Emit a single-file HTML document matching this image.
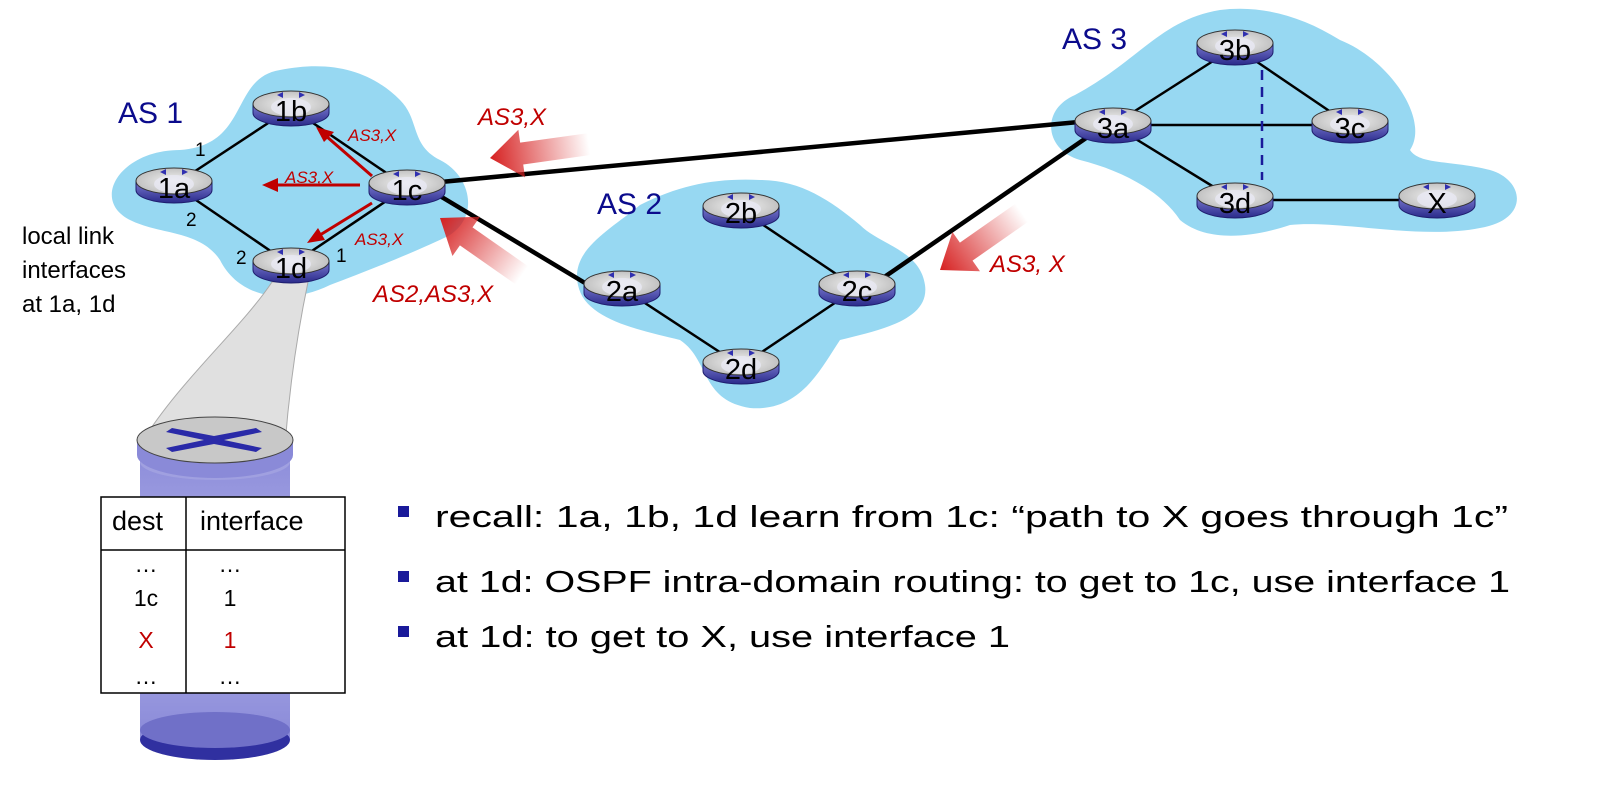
<!DOCTYPE html>
<html><head><meta charset="utf-8"><style>
html,body{margin:0;padding:0;background:#fff;}
svg{display:block;}
text{font-family:"Liberation Sans",sans-serif;}
</style></head><body>
<svg width="1608" height="789" viewBox="0 0 1608 789" xmlns="http://www.w3.org/2000/svg">
<defs>
<linearGradient id="band" x1="0" y1="0" x2="0" y2="1"><stop offset="0" stop-color="#7a7ad0"/><stop offset="1" stop-color="#2a2a8a"/></linearGradient>
<radialGradient id="top" cx="0.5" cy="0.5" r="0.6"><stop offset="0" stop-color="#f2f2f2"/><stop offset="1" stop-color="#b8b8b8"/></radialGradient>
<linearGradient id="fa1" x1="0" y1="0" x2="1" y2="0"><stop offset="0" stop-color="#d62020"/><stop offset="1" stop-color="#d62020" stop-opacity="0"/></linearGradient>
<g id="router">
<path d="M-38 0 L-38 9 A38 13 0 0 0 38 9 L38 0 Z" fill="url(#band)" stroke="#1e1e6e" stroke-width="1"/>
<ellipse cx="0" cy="0" rx="38" ry="13" fill="url(#top)" stroke="#333" stroke-width="1"/>
<ellipse cx="0" cy="3" rx="20" ry="9" fill="#e8e8f4" opacity="0.8"/>
<path d="M-14 -9 l6 -3 v6 z M14 -9 l-6 -3 v6 z" fill="#3030b0"/>
</g>
<linearGradient id="cyl" x1="0" y1="0" x2="0" y2="1"><stop offset="0" stop-color="#8a8ad8"/><stop offset="0.5" stop-color="#b0b0ea"/><stop offset="1" stop-color="#8a8ad8"/></linearGradient>
</defs>

<!-- title descenders -->
<text x="545" y="-22" font-size="72" fill="#0b0b8c">Applying hot potato routing</text>

<!-- clouds -->
<path d="M180 150 C120 150 90 200 130 220 C160 235 200 230 220 260 C240 300 290 305 330 285 C370 270 420 250 450 235 C480 215 470 175 440 160 C410 145 420 120 400 100 C370 70 330 60 280 70 C230 78 250 145 180 150 Z" fill="#97d8f2"/>
<path d="M640 205 C610 230 570 250 578 285 C585 320 640 330 680 340 C710 360 700 400 750 408 C800 412 820 370 840 340 C880 330 930 320 925 285 C920 250 880 245 860 225 C830 200 800 180 760 180 C715 178 680 185 640 205 Z" fill="#97d8f2"/>
<path d="M1075 95 C1040 110 1045 150 1080 160 C1120 170 1160 190 1180 220 C1210 245 1260 235 1290 225 C1340 220 1420 240 1480 228 C1530 220 1525 180 1490 170 C1450 160 1420 165 1410 150 C1430 120 1390 60 1340 40 C1300 15 1260 5 1220 10 C1160 20 1140 60 1075 95 Z" fill="#97d8f2"/>

<!-- beam -->
<path d="M272 282 L308 282 C298 330 290 380 285 445 L140 445 C180 380 240 330 272 282 Z" fill="#e0e0e0" stroke="#aaa" stroke-width="1"/>

<!-- links -->
<g stroke="#000" stroke-width="2.5">
<line x1="174" y1="185" x2="291" y2="108"/>
<line x1="174" y1="185" x2="291" y2="265"/>
<line x1="407" y1="187" x2="291" y2="108"/>
<line x1="407" y1="187" x2="291" y2="265"/>
<line x1="741" y1="210" x2="857" y2="288"/>
<line x1="622" y1="288" x2="741" y2="366"/>
<line x1="857" y1="288" x2="741" y2="366"/>
<line x1="1113" y1="125" x2="1235" y2="47"/>
<line x1="1113" y1="125" x2="1350" y2="125"/>
<line x1="1235" y1="47" x2="1350" y2="125"/>
<line x1="1113" y1="125" x2="1235" y2="200"/>
<line x1="1235" y1="200" x2="1437" y2="200"/>
</g>
<line x1="1262" y1="70" x2="1262" y2="180" stroke="#1a1a9a" stroke-width="2.5" stroke-dasharray="10,7"/>
<g stroke="#000" stroke-width="4.5">
<line x1="430" y1="183" x2="1100" y2="120"/>
<line x1="430" y1="190" x2="600" y2="292"/>
<line x1="880" y1="280" x2="1105" y2="125"/>
</g>

<!-- fat arrows -->
<g transform="translate(490,158) rotate(-8)"><path d="M0 0 L32 -24 L32 -11 L100 -11 L100 11 L32 11 L32 24 Z" fill="url(#fa1)"/></g>
<g transform="translate(440,218) rotate(35)"><path d="M0 0 L32 -24 L32 -11 L100 -11 L100 11 L32 11 L32 24 Z" fill="url(#fa1)"/></g>
<g transform="translate(940,270) rotate(-35)"><path d="M0 0 L32 -24 L32 -11 L100 -11 L100 11 L32 11 L32 24 Z" fill="url(#fa1)"/></g>

<!-- thin red arrows -->
<g stroke="#c00000" stroke-width="3" fill="#c00000">
<line x1="372" y1="176" x2="326" y2="136"/><path d="M316 127 L334 132 L324 142 Z" stroke="none"/>
<line x1="360" y1="185" x2="276" y2="185"/><path d="M262 185 L278 178 L278 192 Z" stroke="none"/>
<line x1="372" y1="203" x2="320" y2="235"/><path d="M307 243 L318 228 L325 240 Z" stroke="none"/>
</g>

<!-- routers -->
<g font-size="29" text-anchor="middle" fill="#000">
<use href="#router" x="291" y="104"/><text x="291" y="121">1b</text>
<use href="#router" x="174" y="181"/><text x="174" y="198">1a</text>
<use href="#router" x="407" y="183"/><text x="407" y="200">1c</text>
<use href="#router" x="291" y="261"/><text x="291" y="278">1d</text>
<use href="#router" x="741" y="206"/><text x="741" y="223">2b</text>
<use href="#router" x="622" y="284"/><text x="622" y="301">2a</text>
<use href="#router" x="857" y="284"/><text x="857" y="301">2c</text>
<use href="#router" x="741" y="362"/><text x="741" y="379">2d</text>
<use href="#router" x="1113" y="121"/><text x="1113" y="138">3a</text>
<use href="#router" x="1235" y="43"/><text x="1235" y="60">3b</text>
<use href="#router" x="1350" y="121"/><text x="1350" y="138">3c</text>
<use href="#router" x="1235" y="196"/><text x="1235" y="213">3d</text>
<use href="#router" x="1437" y="196"/><text x="1437" y="213">X</text>
</g>

<!-- AS labels -->
<g font-size="30" fill="#0b0b8c">
<text x="118" y="123">AS 1</text>
<text x="597" y="214">AS 2</text>
<text x="1062" y="49">AS 3</text>
</g>
<g font-size="19" fill="#000">
<text x="195" y="156">1</text><text x="186" y="226">2</text>
<text x="236" y="264">2</text><text x="336" y="262">1</text>
</g>
<g font-style="italic" fill="#c00000">
<text x="348" y="141" font-size="17">AS3,X</text>
<text x="285" y="183" font-size="17">AS3,X</text>
<text x="355" y="245" font-size="17">AS3,X</text>
<text x="478" y="125" font-size="24">AS3,X</text>
<text x="373" y="302" font-size="24">AS2,AS3,X</text>
<text x="990" y="272" font-size="24">AS3, X</text>
</g>
<g font-size="24" fill="#000">
<text x="22" y="244">local link</text>
<text x="22" y="278">interfaces</text>
<text x="22" y="312">at 1a, 1d</text>
</g>

<!-- cylinder -->
<rect x="140" y="442" width="150" height="298" fill="url(#cyl)"/>
<ellipse cx="215" cy="740" rx="75" ry="20" fill="#3030a0"/>
<ellipse cx="215" cy="730" rx="75" ry="18" fill="#7070c8"/>
<ellipse cx="215" cy="462" rx="75" ry="18" fill="#a0a0e0"/>
<path d="M137 440 L137 455 A78 23 0 0 0 293 455 L293 440 Z" fill="#8a8ad8"/>
<ellipse cx="215" cy="440" rx="78" ry="23" fill="#c8c8c8" stroke="#444" stroke-width="1"/>
<path d="M172 428 L214 436 L256 428 L262 432 L224 440 L262 448 L256 452 L214 444 L172 452 L166 448 L204 440 L166 432 Z" fill="#2a2aa8"/>

<!-- table -->
<rect x="101" y="497" width="244" height="196" fill="#fff" stroke="#000" stroke-width="1.5"/>
<line x1="186" y1="497" x2="186" y2="693" stroke="#000" stroke-width="1.5"/>
<line x1="101" y1="550" x2="345" y2="550" stroke="#000" stroke-width="1.5"/>
<g font-size="27" fill="#000">
<text x="112" y="530">dest</text><text x="200" y="530">interface</text>
</g>
<g font-size="23" fill="#000" text-anchor="middle">
<text x="146" y="572">…</text><text x="230" y="572">…</text>
<text x="146" y="606">1c</text><text x="230" y="606">1</text>
<text x="146" y="648" fill="#c00000">X</text><text x="230" y="648" fill="#c00000">1</text>
<text x="146" y="684">…</text><text x="230" y="684">…</text>
</g>

<!-- bullets -->
<g fill="#1a1a9a"><rect x="398" y="506" width="11" height="11"/><rect x="398" y="571" width="11" height="11"/><rect x="398" y="626" width="11" height="11"/></g>
<g font-size="31" fill="#000">
<text x="435" y="527" textLength="1073" lengthAdjust="spacingAndGlyphs">recall: 1a, 1b, 1d learn from 1c: “path to X goes through 1c”</text>
<text x="435" y="592" textLength="1075" lengthAdjust="spacingAndGlyphs">at 1d: OSPF intra-domain routing: to get to 1c, use  interface 1</text>
<text x="435" y="647" textLength="575" lengthAdjust="spacingAndGlyphs">at 1d: to get to X, use  interface 1</text>
</g>
</svg>
</body></html>
